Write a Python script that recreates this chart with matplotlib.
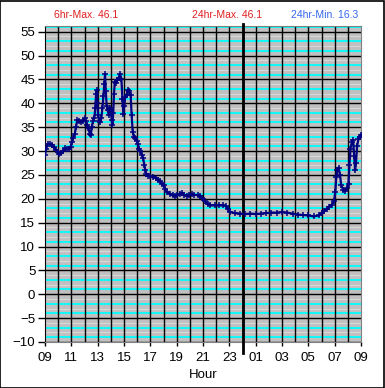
import numpy as np
import matplotlib
matplotlib.use("Agg")
import matplotlib.pyplot as plt
from matplotlib.patches import Rectangle

plt.rcParams['font.family'] = ['Liberation Sans', 'DejaVu Sans']

# hours after 09:00, temperature
hours = [0.00, 0.10, 0.20, 0.35, 0.50, 0.65, 0.80, 0.95, 1.10, 1.20, 1.35, 1.50, 1.65, 1.80, 1.95,
         2.05, 2.15, 2.25, 2.35, 2.45, 2.55, 2.70, 2.85, 3.00, 3.10, 3.20, 3.30, 3.40, 3.47, 3.55,
         3.65, 3.75, 3.82, 3.88, 3.93, 3.98, 4.03, 4.12, 4.20, 4.28, 4.36, 4.44, 4.50, 4.56, 4.62,
         4.68, 4.76, 4.85, 4.92, 5.00, 5.07, 5.12, 5.18, 5.24, 5.30, 5.40, 5.50, 5.60, 5.70, 5.80,
         5.88, 5.95, 6.02, 6.10, 6.20, 6.30, 6.40, 6.50, 6.58, 6.66, 6.75, 6.85, 6.96, 7.05, 7.15,
         7.25, 7.35, 7.45, 7.55, 7.62, 7.70, 7.85, 8.00, 8.20, 8.40, 8.55, 8.70, 8.85, 9.00, 9.15,
         9.30, 9.50, 9.70, 9.87, 10.05, 10.25, 10.40, 10.55, 10.75, 10.95, 11.15, 11.35, 11.60, 11.80,
         11.95, 12.15, 12.35, 12.55, 12.90, 13.20, 13.50, 13.75, 13.90, 14.05, 14.40, 14.80, 15.20,
         15.60, 16.00, 16.40, 16.80, 17.20, 17.60, 18.00, 18.40, 18.80, 19.20, 19.60, 20.00, 20.40,
         20.80, 21.00, 21.20, 21.40, 21.60, 21.80, 21.95, 22.05, 22.12, 22.20, 22.30, 22.40, 22.50,
         22.65, 22.80, 22.95, 23.05, 23.12, 23.20, 23.30, 23.40, 23.48, 23.55, 23.62, 23.70, 23.80,
         23.90, 24.00]
temps = [29.2, 30.5, 31.5, 31.5, 31.2, 30.9, 30.3, 29.8, 29.3, 29.5, 30.0, 30.6, 30.4, 30.4, 30.9,
         32.0, 32.8, 33.5, 35.0, 36.5, 36.2, 36.0, 36.3, 36.9, 36.2, 35.4, 34.8, 33.6, 33.3, 35.0,
         36.4, 37.0, 39.0, 42.0, 42.8, 40.0, 37.5, 36.3, 36.0, 37.0, 39.0, 41.5, 44.0, 46.1, 42.5,
         39.5, 38.5, 37.5, 39.0, 38.5, 36.5, 35.5, 38.0, 42.0, 44.5, 44.3, 44.9, 45.3, 46.1, 45.2,
         41.0, 37.8, 39.5, 41.4, 41.8, 42.8, 42.5, 41.8, 37.5, 34.0, 33.0, 32.7, 32.2, 31.5, 30.5,
         30.0, 29.2, 28.5, 27.0, 26.0, 25.2, 24.8, 24.7, 24.6, 24.4, 24.0, 23.7, 23.2, 22.8, 22.0,
         21.4, 21.0, 20.7, 20.5, 20.7, 21.0, 21.2, 20.8, 20.6, 20.8, 20.9, 20.8, 20.8, 20.6,
         20.1, 19.5, 18.9, 18.6, 18.6, 18.6, 18.6, 18.5, 17.8, 17.2, 17.0, 16.9, 16.8,
         16.9, 16.8, 16.9, 17.0, 17.1, 17.1, 17.2, 17.1, 16.9, 16.7, 16.6, 16.5, 16.3,
         16.5, 17.0, 17.5, 17.8, 18.3, 18.8, 19.5, 21.5, 24.5, 26.1, 26.5, 25.0, 22.8,
         21.9, 21.6, 22.2, 23.2, 27.0, 30.5, 31.8, 32.3, 29.0, 26.0, 27.5, 31.0, 32.5,
         33.0, 33.4]

x_ticks = list(range(0, 25, 2))
x_labels = ["09", "11", "13", "15", "17", "19", "21", "23", "01", "03", "05", "07", "09"]
y_ticks = list(range(-10, 56, 5))

fig = plt.figure(figsize=(3.85, 3.88), dpi=100)
fig.patch.set_facecolor("white")
fig.patches.append(Rectangle((0.001, 0.001), 0.997, 0.997, transform=fig.transFigure,
                             fill=False, edgecolor="black", linewidth=1.2))
ax = fig.add_axes([0.1169, 0.1186, 0.8208, 0.8144])
ax.set_facecolor("#c0c0c0")

# minor horizontal lines
for v in range(-10, 57):
    if v % 5 == 0:
        continue
    if v % 5 in (1, 3):
        ax.axhline(v, color="#00ffff", lw=1.3, zorder=1)
    else:
        ax.axhline(v, color="#d8d8d8", lw=0.8, zorder=1)
for v in y_ticks:
    ax.axhline(v, color="black", lw=1.0, zorder=2)
for h in range(1, 24):
    ax.axvline(h, color="black", lw=1.0, zorder=2)
ax.axvline(15, ymin=-0.035, ymax=1.007, color="black", lw=2.0, zorder=3, clip_on=False)

ax.plot(hours, temps, color="#000080", lw=1.6, marker="+", ms=5, mew=1.1, zorder=4)

ax.set_xlim(0, 24)
ax.set_ylim(-10, 56.2)
ax.set_xticks(x_ticks)
ax.set_xticklabels(x_labels)
ax.set_yticks(y_ticks)
ax.tick_params(axis="y", length=5, width=1, color="black", labelsize=9.5, pad=2)
ax.tick_params(axis="x", length=3, width=1, color="black", labelsize=9.5, pad=4)
for s in ax.spines.values():
    s.set_color("#808080")
ax.spines["left"].set_color("black")
ax.set_xlabel("Hour", fontsize=9.5, labelpad=4)

fig.text(0.225, 0.962, "6hr-Max. 46.1", color="#e02020", fontsize=7.5, ha="center", va="center")
fig.text(0.590, 0.962, "24hr-Max. 46.1", color="#e02020", fontsize=7.5, ha="center", va="center")
fig.text(0.842, 0.962, "24hr-Min. 16.3", color="#3366ee", fontsize=7.5, ha="center", va="center")

fig.savefig("out.png", dpi=100)
